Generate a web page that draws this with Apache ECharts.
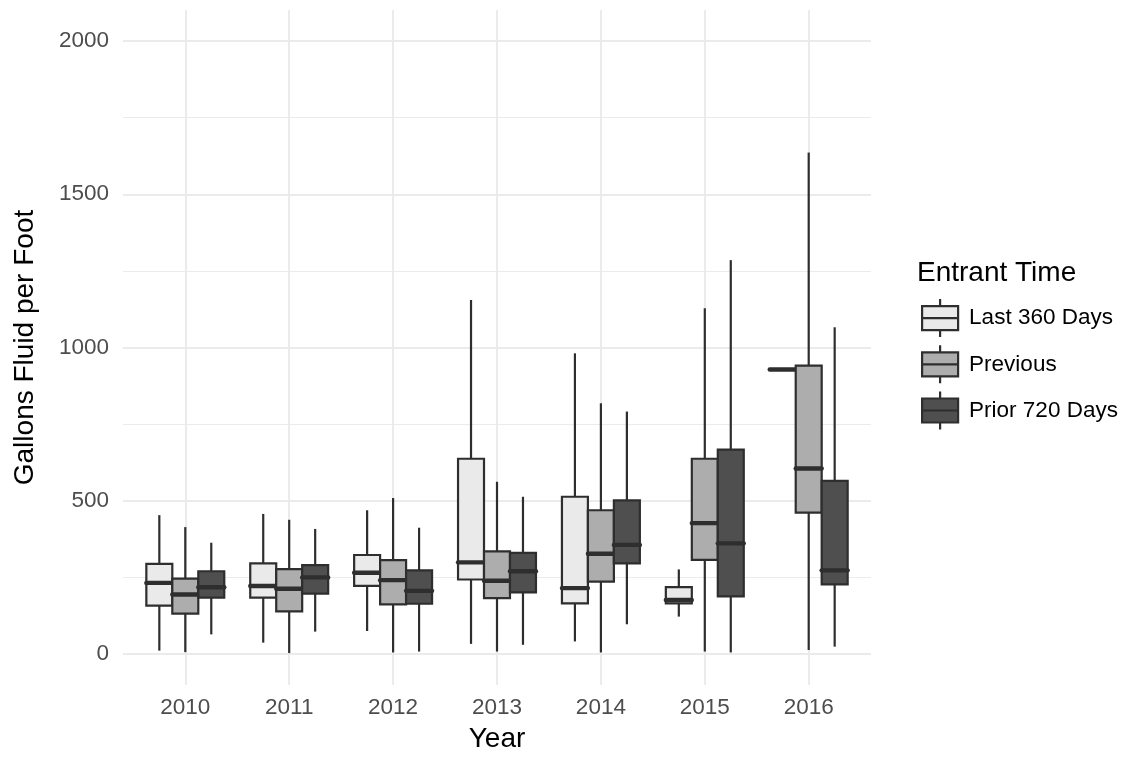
<!DOCTYPE html>
<html>
<head>
<meta charset="utf-8">
<script src="https://cdn.jsdelivr.net/npm/echarts@6/dist/echarts.min.js"></script>
<style>
  html, body { margin: 0; padding: 0; background: #ffffff; }
  #chart { width: 1130px; height: 757px; }
</style>
</head>
<body>
<div id="chart"></div>
<script>
// ---- Data ----
const years = ['2010', '2011', '2012', '2013', '2014', '2015', '2016'];
const groupNames = ['Last 360 Days', 'Previous', 'Prior 720 Days'];
const yTicks = [0, 500, 1000, 1500, 2000];

// each row: [lower whisker, Q1, median, Q3, upper whisker]
const last360Days = [
  [11, 158, 232, 294, 453],
  [37, 184, 222, 296, 457],
  [75, 222, 265, 323, 469],
  [33, 243, 299, 637, 1155],
  [41, 165, 215, 513, 981],
  [122, 165, 176, 218, 276],
  [928, 928, 928, 928, 928]
];
const previous = [
  [6, 132, 194, 246, 414],
  [3, 139, 213, 277, 438],
  [5, 162, 241, 306, 509],
  [8, 182, 239, 335, 562],
  [5, 236, 327, 469, 818],
  [8, 307, 427, 637, 1128],
  [13, 461, 605, 941, 1636]
];
const prior720Days = [
  [64, 184, 218, 270, 363],
  [73, 197, 250, 290, 408],
  [8, 164, 206, 273, 412],
  [30, 201, 270, 330, 513],
  [97, 296, 356, 501, 791],
  [5, 188, 361, 667, 1285],
  [24, 227, 273, 565, 1066]
];
const groupStats = [last360Days, previous, prior720Days];
const fills = ['#EAEAEA', '#ADADAD', '#4F4F4F'];
const outline = '#2E2E2E';
const gridColor = '#EBEBEB';
const fontFamily = '"Liberation Sans", Arial, Helvetica, sans-serif';

function makeRender(sIdx) {
  return function (params, api) {
    const xi = api.value(0);
    const band = api.size([1, 0])[0];
    const w = band * 0.25;
    const cx = api.coord([xi, 0])[0] + (sIdx - 1) * w;
    const yLow = api.coord([xi, api.value(1)])[1];
    const yQ1 = api.coord([xi, api.value(2)])[1];
    const yMed = api.coord([xi, api.value(3)])[1];
    const yQ3 = api.coord([xi, api.value(4)])[1];
    const yHigh = api.coord([xi, api.value(5)])[1];
    const line = { stroke: outline, lineWidth: 2.2 };
    return {
      type: 'group',
      children: [
        { type: 'line', shape: { x1: cx, y1: yHigh, x2: cx, y2: yQ3 }, style: line },
        { type: 'line', shape: { x1: cx, y1: yQ1, x2: cx, y2: yLow }, style: line },
        { type: 'rect', shape: { x: cx - w / 2, y: yQ3, width: w, height: yQ1 - yQ3 },
          style: { fill: fills[sIdx], stroke: outline, lineWidth: 2.2 } },
        { type: 'line', shape: { x1: cx - w / 2, y1: yMed, x2: cx + w / 2, y2: yMed },
          style: { stroke: outline, lineWidth: 4.4, lineCap: 'round' } }
      ]
    };
  };
}

const series = groupNames.map(function (name, s) {
  return {
    name: name,
    type: 'custom',
    xAxisIndex: 1,
    yAxisIndex: 1,
    clip: false,
    itemStyle: { color: fills[s], borderColor: outline, borderWidth: 2 },
    encode: { x: 0, y: [1, 2, 3, 4, 5] },
    renderItem: makeRender(s),
    data: groupStats[s].map(function (row, i) { return [i].concat(row); })
  };
});

const legendIcon = 'path://M18,0L18,7M0,7L36,7L36,31L0,31ZM0,19L36,19M18,31L18,38';

const chart = echarts.init(document.getElementById('chart'), null, { renderer: 'canvas' });
chart.setOption({
  animation: false,
  backgroundColor: '#ffffff',
  textStyle: { fontFamily: fontFamily },
  title: {
    text: 'Entrant Time',
    left: 917, top: 259, padding: 0,
    textStyle: { fontSize: 28, fontWeight: 'normal', color: '#000000', fontFamily: fontFamily }
  },
  legend: {
    orient: 'vertical',
    left: 921, top: 298, padding: 0,
    itemWidth: 36, itemHeight: 38, itemGap: 6,
    icon: legendIcon,
    itemStyle: { borderColor: outline, borderWidth: 2.2 },
    textStyle: { fontSize: 22.5, color: '#000000', fontFamily: fontFamily, padding: [0, 0, 0, 6] },
    selectedMode: false,
    data: groupNames.map(function (n, s) { return { name: n, itemStyle: { color: fills[s] } }; })
  },
  grid: [
    { left: 123, top: 41, width: 748, height: 613, containLabel: false, outerBoundsMode: 'none' },
    { left: 185.3, top: 10.35, width: 623.4, height: 674.3, containLabel: false, outerBoundsMode: 'none' }
  ],
  xAxis: [
    { type: 'value', gridIndex: 0, show: false, min: 0, max: 1 },
    {
      type: 'category', gridIndex: 1, data: years, boundaryGap: false,
      axisLine: { show: false }, axisTick: { show: false },
      axisLabel: { interval: 0, fontSize: 22.5, color: '#4D4D4D', margin: 12, fontFamily: fontFamily },
      splitLine: { show: true, interval: 0, lineStyle: { color: gridColor, width: 2 } },
      name: 'Year', nameLocation: 'middle', nameGap: 41,
      nameTextStyle: { fontSize: 28, color: '#000000', fontFamily: fontFamily }
    }
  ],
  yAxis: [
    {
      type: 'value', gridIndex: 0, min: yTicks[0], max: yTicks[yTicks.length - 1], interval: 500,
      axisLine: { show: false }, axisTick: { show: false },
      axisLabel: {
        fontSize: 22.5, color: '#4D4D4D', margin: 14, fontFamily: fontFamily,
        formatter: function (v) { return String(v); }
      },
      splitLine: { show: true, lineStyle: { color: gridColor, width: 2 } },
      minorTick: { show: false, splitNumber: 2 },
      minorSplitLine: { show: true, lineStyle: { color: gridColor, width: 1.2 } },
      name: 'Gallons Fluid per Foot', nameLocation: 'middle', nameGap: 84, nameRotate: 90,
      nameTextStyle: { fontSize: 28, color: '#000000', fontFamily: fontFamily }
    },
    { type: 'value', gridIndex: 1, show: false, min: -100, max: 2100 }
  ],
  series: series
});
</script>
</body>
</html>
